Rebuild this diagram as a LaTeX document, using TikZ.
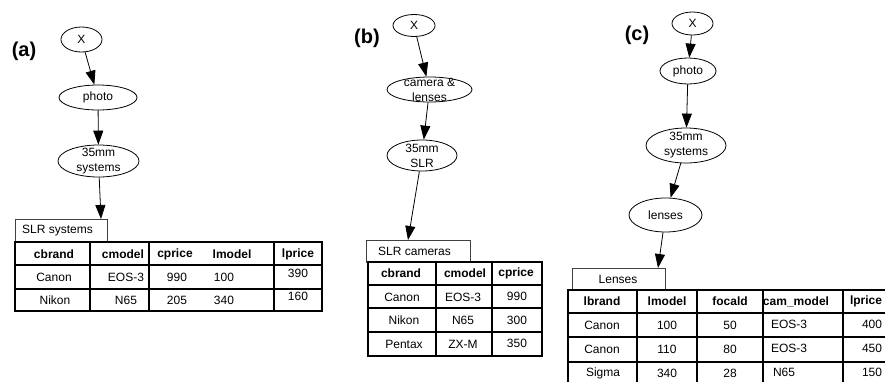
\documentclass[tikz,border=0pt]{standalone}
\usepackage{fontspec}
\setmainfont{Liberation Sans}
\usepackage{tikz}
\usetikzlibrary{shapes.geometric, arrows.meta, positioning}
\tikzset{>={Triangle[length=14pt,width=10pt]}}
\tikzset{
	concept/.style={draw, ellipse, inner sep=0pt, line width=0.8pt, font=\fontsize{12}{15}\selectfont},
	link/.style={->, line width=0.8pt},
	tabtitle/.style={draw=black!75, line width=0.8pt},
	tabline/.style={line width=1.3pt},
	head/.style={inner sep=0pt, font=\fontsize{12}{15}\selectfont\bfseries},
	cell/.style={inner sep=0pt, font=\fontsize{12}{15}\selectfont},
	panel/.style={inner sep=0pt, font=\fontsize{20}{24}\selectfont\bfseries}
}

\begin{document}
\begin{tikzpicture}[x=1pt, y=-1pt]
			\useasboundingbox (0,0) rectangle (885,381);
			\clip (0,0) rectangle (885,381);
			% (a)
			\node [panel] (pa) at (24,51) {(a)};
			\node [concept, minimum width=41pt, minimum height=25pt] (xa) at (81.5,39.5) {X};
			\node [concept, minimum width=78pt, minimum height=25pt] (photoa) at (98,97.5) {photo};
			\node [concept, minimum width=81pt, minimum height=32pt, label={[cell, align=center]center:35mm\\systems}] (mma) at (98.5,161) {};
			\coordinate (tipa) at (101,219);
			\draw [link] (xa) -- (photoa);
			\draw [link] (photoa) -- (mma);
			\draw [link] (mma) -- (tipa);
			\draw [tabtitle] (15,219) rectangle (107,242);
			\node [cell, anchor=west] (ta) at (22,231) {SLR systems};
			\draw [tabline] (15,242) rectangle (322,311);
			\foreach \y in {265,289} \draw [tabline] (15,\y) -- (322,\y);
			\foreach \x in {90,149,274} \draw [tabline] (\x,242) -- (\x,311);
			\foreach \x/\t [count=\i] in {54/cbrand,123/cmodel,175/cprice,232/lmodel,298/lprice}
				\node [head] (ah\i) at (\x,254) {\t};
			\foreach \x/\y/\t [count=\i] in {54/277/Canon,126/277/EOS-3,177/277/990,224/277/100,298/273/390,55/300/Nikon,126/300/N65,177/300/205,224/300/340,298/296/160}
				\node [cell] (ac\i) at (\x,\y) {\t};
			% (b)
			\node [panel] (pb) at (367,38) {(b)};
			\node [concept, minimum width=42pt, minimum height=22pt] (xb) at (414,25.5) {X};
			\node [concept, minimum width=85pt, minimum height=25pt, label={[cell, align=center]center:camera \&\\lenses}] (camb) at (429.5,89.5) {};
			\node [concept, minimum width=70pt, minimum height=31pt, label={[cell, align=center]center:35mm\\SLR}] (slrb) at (422,155.5) {};
			\coordinate (tipb) at (408,240);
			\draw [link] (xb) -- (camb);
			\draw [link] (camb) -- (slrb);
			\draw [link] (slrb) -- (tipb);
			\draw [tabtitle] (366,240) rectangle (470,262);
			\node [cell, anchor=west] (tb) at (378,251) {SLR cameras};
			\draw [tabline] (368,262) rectangle (542,356);
			\foreach \y in {285,308,332} \draw [tabline] (368,\y) -- (542,\y);
			\foreach \x in {436,492} \draw [tabline] (\x,262) -- (\x,356);
			\foreach \x/\t [count=\i] in {401/cbrand,465/cmodel,516/cprice}
				\node [head] (bh\i) at (\x,273.5) {\t};
			\foreach \x/\y/\t [count=\i] in {402/297/Canon,463/297/EOS-3,517/296/990,404/320/Nikon,463/320/N65,517/320/300,404/344/Pentax,463/344/ZX-M,517/343/350}
				\node [cell] (bc\i) at (\x,\y) {\t};
			% (c)
			\node [panel] (pc) at (637,35) {(c)};
			\node [concept, minimum width=41pt, minimum height=23pt] (xc) at (692.5,23.5) {X};
			\node [concept, minimum width=56pt, minimum height=26pt] (photoc) at (688,71) {photo};
			\node [concept, minimum width=80pt, minimum height=35pt, label={[cell, align=center]center:35mm\\systems}] (mmc) at (686,145.5) {};
			\node [concept, minimum width=73pt, minimum height=34pt] (lensc) at (665.5,215) {lenses};
			\coordinate (tipc) at (658,268);
			\draw [link] (xc) -- (photoc);
			\draw [link] (photoc) -- (mmc);
			\draw [link] (mmc) -- (lensc);
			\draw [link] (lensc) -- (tipc);
			\draw [tabtitle] (572,268) rectangle (665,290);
			\node [cell] (tc) at (618,279) {Lenses};
			\draw [tabline] (568,290) rectangle (910,392);
			\foreach \y in {313,337,362} \draw [tabline] (568,\y) -- (910,\y);
			\foreach \x in {637,697,763,843} \draw [tabline] (\x,290) -- (\x,392);
			\foreach \x/\t [count=\i] in {602/lbrand,667/lmodel,730/focald,796/cam\_model,866/lprice}
				\node [head] (ch\i) at (\x,301.5) {\t};
			\foreach \x/\y/\t [count=\i] in {602/325/Canon,667/325/100,730/325/50,789/324/EOS-3,872/324/400,602/349.5/Canon,667/349.5/110,730/349.5/80,789/348.5/EOS-3,872/348.5/450,603/373/Sigma,667/373/340,730/373/28,784/372/N65,872/372/150}
				\node [cell] (cc\i) at (\x,\y) {\t};
		\end{tikzpicture}
\end{document}
